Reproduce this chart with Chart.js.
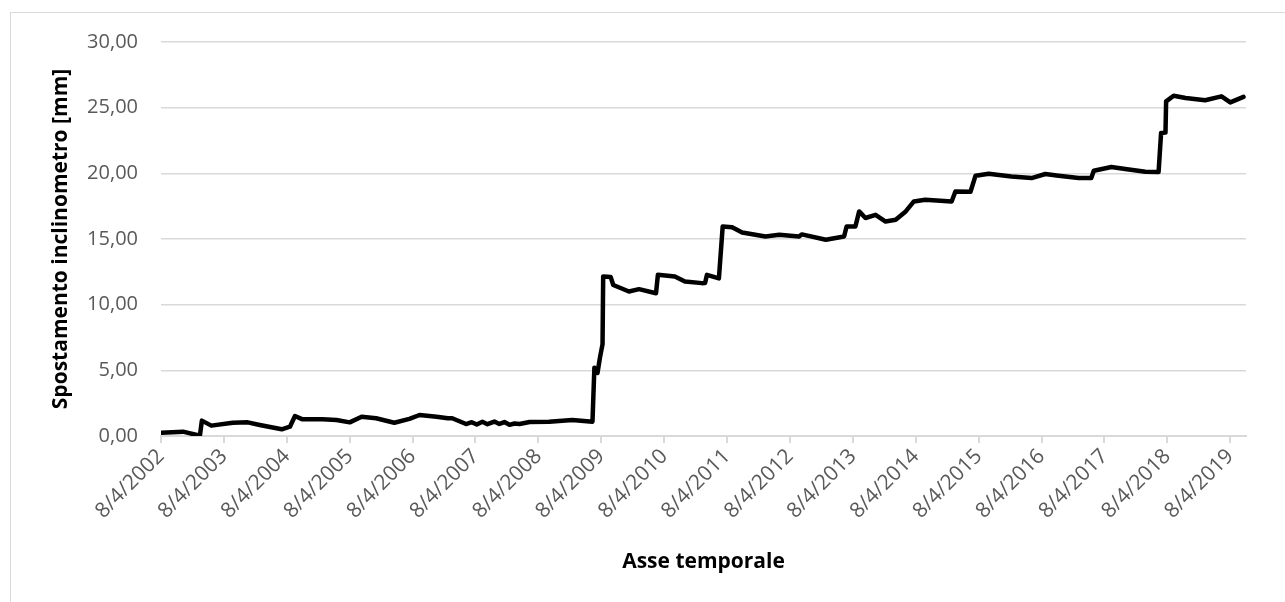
<!DOCTYPE html>
<html lang="it">
<head>
<meta charset="utf-8">
<title>Spostamento inclinometro</title>
<script src="https://cdn.jsdelivr.net/npm/chart.js@4.4.1/dist/chart.umd.min.js"></script>
<style>
  html, body { margin: 0; padding: 0; background: #fff; overflow: hidden; }
  #frame {
    position: absolute; left: 10px; top: 12px;
    width: 1320px; height: 640px;
    border: 1px solid #d9d9d9;
  }
  #wrap { position: absolute; left: 0; top: 0; width: 1285px; height: 602px; }
</style>
</head>
<body>
<div id="frame"></div>
<div id="wrap"><canvas id="grafico"></canvas></div>
<script>
// ─── Dati (anno decimale / spostamento in mm) ────────────────────────────────

const anni = [
  2002.01, 2002.35, 2002.57, 2002.62, 2002.65, 2002.80, 2003.14, 2003.38, 2003.57, 2003.92,
  2004.05, 2004.13, 2004.25, 2004.57, 2004.79, 2005.00, 2005.19, 2005.42, 2005.71, 2005.95,
  2006.11, 2006.38, 2006.56, 2006.63, 2006.85, 2006.94, 2007.02, 2007.11, 2007.19, 2007.30,
  2007.38, 2007.46, 2007.54, 2007.62, 2007.70, 2007.86, 2008.17, 2008.54, 2008.86, 2008.89,
  2008.94, 2008.98, 2009.02, 2009.03, 2009.15, 2009.19, 2009.44, 2009.60, 2009.87, 2009.90,
  2010.17, 2010.33, 2010.60, 2010.65, 2010.68, 2010.87, 2010.93, 2011.08, 2011.24, 2011.61,
  2011.83, 2012.14, 2012.19, 2012.57, 2012.86, 2012.90, 2013.04, 2013.10, 2013.20, 2013.36,
  2013.52, 2013.68, 2013.84, 2013.97, 2014.15, 2014.57, 2014.63, 2014.87, 2014.95, 2015.16,
  2015.52, 2015.84, 2016.06, 2016.27, 2016.59, 2016.79, 2016.83, 2017.11, 2017.33, 2017.65,
  2017.86, 2017.90, 2017.97, 2017.98, 2018.10, 2018.29, 2018.60, 2018.86, 2019.00, 2019.21
];

const spostamento = [
  0.25, 0.33, 0.08, 0.08, 1.17, 0.79, 1.01, 1.04, 0.84, 0.51,
  0.71, 1.52, 1.27, 1.27, 1.22, 1.04, 1.47, 1.35, 1.01, 1.30,
  1.60, 1.47, 1.35, 1.35, 0.91, 1.05, 0.88, 1.08, 0.90, 1.10,
  0.92, 1.06, 0.85, 0.95, 0.91, 1.06, 1.08, 1.22, 1.09, 5.20,
  4.80, 6.00, 7.00, 12.14, 12.10, 11.50, 11.00, 11.18, 10.87, 12.27,
  12.14, 11.76, 11.64, 11.65, 12.27, 12.00, 15.95, 15.90, 15.50, 15.19,
  15.32, 15.19, 15.35, 14.94, 15.19, 15.95, 15.95, 17.10, 16.60, 16.84,
  16.33, 16.46, 17.10, 17.86, 17.99, 17.86, 18.62, 18.60, 19.82, 19.97,
  19.76, 19.64, 19.95, 19.82, 19.64, 19.64, 20.20, 20.48, 20.33, 20.12,
  20.10, 23.07, 23.10, 25.48, 25.91, 25.74, 25.56, 25.86, 25.40, 25.82
];

// etichette dell'asse x: una per anno, sempre all'8 aprile
const anniTick = [2002, 2003, 2004, 2005, 2006, 2007, 2008, 2009, 2010,
                  2011, 2012, 2013, 2014, 2015, 2016, 2017, 2018, 2019];

const ticksY = [0, 5, 10, 15, 20, 25, 30];

// ─── Grafico ─────────────────────────────────────────────────────────────────

const FONT   = "'Open Sans', 'Liberation Sans', sans-serif";
const GRIGIO = "#d9d9d9";

const punti = anni.map((a, i) => ({ x: a, y: spostamento[i] }));

new Chart(document.getElementById("grafico"), {
  type: "line",
  data: {
    datasets: [{
      data: punti,
      borderColor: "#000",
      borderWidth: 4.5,
      pointRadius: 0,
      tension: 0,
      borderJoinStyle: "round",
      borderCapStyle: "round",
    }]
  },
  options: {
    responsive: true,
    maintainAspectRatio: false,
    animation: false,
    layout: { padding: { left: 0, right: 39, top: 42, bottom: 0 } },
    plugins: { legend: { display: false }, tooltip: { enabled: false } },
    scales: {
      x: {
        type: "linear",
        min: 2002,
        max: 2019.25,
        afterBuildTicks: axis => { axis.ticks = anniTick.map(v => ({ value: v })); },
        afterFit: axis => { axis.height = 166; },
        ticks: {
          autoSkip: false,
          minRotation: 45,
          maxRotation: 45,
          padding: 1,
          color: "#595959",
          font: { family: FONT, size: 21 },
          callback: v => "8/4/" + v,
        },
        grid: { drawOnChartArea: false, drawTicks: true, tickLength: 7, color: GRIGIO, lineWidth: 2 },
        border: { display: true, color: GRIGIO, width: 2 },
        title: {
          display: true,
          text: "Asse temporale",
          color: "#000",
          font: { family: FONT, size: 21, weight: "bold" },
          padding: { top: 0, bottom: 27 },
        },
      },
      y: {
        min: 0,
        max: 30,
        afterBuildTicks: axis => { axis.ticks = ticksY.map(v => ({ value: v })); },
        afterFit: axis => { axis.width = 161; },
        ticks: {
          padding: 23,
          color: "#595959",
          font: { family: FONT, size: 20 },
          callback: v => v.toFixed(2).replace(".", ","),
        },
        grid: { color: GRIGIO, lineWidth: 1.5, drawTicks: false },
        border: { display: false },
        title: {
          display: true,
          text: "Spostamento inclinometro [mm]",
          color: "#000",
          font: { family: FONT, size: 21, weight: "bold" },
          padding: { top: 48, bottom: 0 },
        },
      },
    },
  },
});
</script>
</body>
</html>
